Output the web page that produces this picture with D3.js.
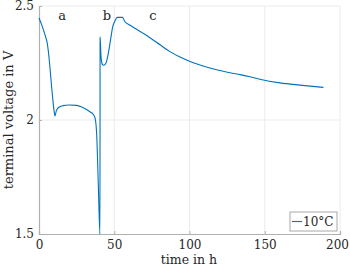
<!DOCTYPE html>
<html><head><meta charset="utf-8">
<script src="https://cdn.jsdelivr.net/npm/d3@7"></script>
<style>body{margin:0;background:#fff}svg{display:block}</style>
</head><body>
<script>
const timeH = [0,1.8,4,5.5,6.6,7.3,8.3,9.2,10,10.6,11.5,13,16,20,25,28,31,34,36,37.2,38.3,39.4,40.5,40.6,41.2,42,43,44.5,46,47.5,49,50.5,52,55.5,57,60,64,69,74,80.4,87,93.7,100.3,107,113.6,120.3,126.9,133.6,140.2,146.8,160.1,173.4,189];
const voltage = [2.447,2.417,2.373,2.336,2.278,2.23,2.15,2.09,2.04,2.018,2.04,2.055,2.063,2.066,2.064,2.058,2.048,2.035,2.025,2.01,1.94,1.72,1.5,2.365,2.28,2.245,2.24,2.25,2.29,2.35,2.41,2.435,2.45,2.45,2.432,2.418,2.401,2.381,2.360,2.330,2.300,2.276,2.257,2.241,2.228,2.217,2.207,2.199,2.19,2.179,2.163,2.153,2.143];
const xTicks = [0,50,100,150,200];
const yTicks = [1.5,2,2.5];
const yTickLabels = ["1.5","2","2.5"];
const annotations = [{label:"a",t:15.3,v:2.44},{label:"b",t:45.2,v:2.44},{label:"c",t:75.7,v:2.44}];
const legendLabel = "10°C";

const FF='"DejaVu Serif",serif';
const W=350,H=268;
const svg=d3.select("body").append("svg").attr("width",W).attr("height",H).attr("font-family",FF);
const x=d3.scaleLinear().domain([0,200]).range([39,340]);
const y=d3.scaleLinear().domain([1.5,2.5]).range([234,6]);
const grid="#ebebeb", axc="#b0b0b0", col="#0072BD", tc="#262626";

svg.append("g").selectAll("line").data(xTicks.slice(1,-1)).join("line")
 .attr("x1",d=>x(d)).attr("x2",d=>x(d)).attr("y1",y(2.5)).attr("y2",y(1.5)).attr("stroke",grid);
svg.append("g").selectAll("line").data([2]).join("line")
 .attr("x1",x(0)).attr("x2",x(200)).attr("y1",d=>y(d)).attr("y2",d=>y(d)).attr("stroke",grid);
svg.append("line").attr("x1",x(0)).attr("x2",x(200)).attr("y1",y(2.5)).attr("y2",y(2.5)).attr("stroke",grid);
svg.append("line").attr("x1",x(200)).attr("x2",x(200)).attr("y1",y(2.5)).attr("y2",y(1.5)).attr("stroke",grid);

const xa=svg.append("g").attr("transform",`translate(0,${y(1.5)})`)
 .call(d3.axisBottom(x).tickValues(xTicks).tickSize(-3).tickPadding(6).tickFormat(d3.format("d")));
const ya=svg.append("g").attr("transform",`translate(${x(0)},0)`)
 .call(d3.axisLeft(y).tickValues(yTicks).tickSize(-3).tickPadding(5).tickFormat((d,i)=>yTickLabels[i]));
[xa,ya].forEach(a=>{a.attr("font-family",FF).attr("font-size",12);
 a.select(".domain").attr("stroke",axc).attr("stroke-width",1.2);
 a.selectAll(".tick line").attr("stroke",axc);
 a.selectAll(".tick text").attr("fill",tc);});
xa.selectAll(".tick text").filter(d=>d===200).attr("dx",-3);

const pts=timeH.map((t,i)=>[t,voltage[i]]);
svg.append("path").datum(pts).attr("fill","none").attr("stroke",col).attr("stroke-width",1.1)
 .attr("d",d3.line().x(d=>x(d[0])).y(d=>y(d[1])).curve(d3.curveMonotoneX));

svg.selectAll(".ann").data(annotations).join("text").attr("class","ann")
 .attr("x",d=>x(d.t)).attr("y",d=>y(d.v)).attr("text-anchor","middle").attr("font-size",13).attr("fill",tc).text(d=>d.label);

svg.append("text").attr("x",189).attr("y",264).attr("text-anchor","middle").attr("font-size",12.5).attr("fill",tc).text("time in h");
svg.append("text").attr("transform","translate(13,120) rotate(-90)").attr("text-anchor","middle").attr("font-size",13).attr("fill",tc).text("terminal voltage in V");

const lg=svg.append("g");
lg.append("rect").attr("x",290).attr("y",212).attr("width",47).attr("height",19).attr("fill","#fff").attr("stroke","#a8a8a8");
lg.append("line").attr("x1",292).attr("x2",302).attr("y1",221.5).attr("y2",221.5).attr("stroke",col).attr("stroke-width",1.1);
lg.append("text").attr("x",303).attr("y",226).attr("font-size",12).attr("fill",tc).text(legendLabel);
</script>
</body></html>
